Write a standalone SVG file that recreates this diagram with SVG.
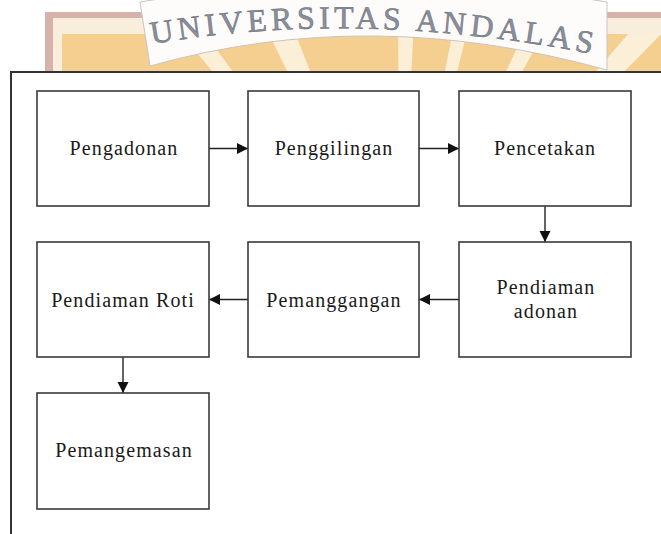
<svg xmlns="http://www.w3.org/2000/svg" width="661" height="534" viewBox="0 0 661 534">
<style>
.box{fill:#fff;stroke:#3a3a3a;stroke-width:1.6}
.lbl{font-family:"Liberation Serif","Times New Roman",serif;font-size:20px;letter-spacing:1.1px;fill:#1a1a1a;text-anchor:middle}
.conn{stroke:#222;stroke-width:1.4;fill:none;marker-end:url(#ah)}
.ray{fill:#fffaf0;opacity:0.75}
</style>
<defs>
<marker id="ah" markerUnits="userSpaceOnUse" markerWidth="12" markerHeight="12" refX="11" refY="5.5" orient="auto">
<path d="M0,0 L11,5.5 L0,11 Z" fill="#111"/>
</marker>
<clipPath id="wm"><rect x="62" y="34" width="600" height="40"/></clipPath>
</defs>
<rect width="661" height="534" fill="#fff"/>
<g id="watermark">
<rect x="45" y="12" width="620" height="62" fill="#d7b2aa"/>
<rect x="53" y="18" width="610" height="56" fill="#f9eedc"/>
<rect x="62" y="34" width="600" height="40" fill="#f4cf8f"/>
<g clip-path="url(#wm)">
<polygon class="ray" points="400,300 262,20 290,20"/>
<polygon class="ray" points="400,300 398,20 414,20"/>
<polygon class="ray" points="400,300 455,20 470,20"/>
<polygon class="ray" points="400,300 530,20 550,20"/>
<polygon class="ray" points="400,300 640,20 675,20"/>
<polygon class="ray" points="400,300 170,20 195,20"/>
</g>
<path d="M140,2 Q370,-40 607,2 L607,70 Q370,4 150,66 Z" fill="#fdfcfb" stroke="#c9c4c4" stroke-width="1"/>
<path id="arc" d="M152,44 Q360,8 598,55" fill="none"/>
<text font-family="'Liberation Serif','Times New Roman',serif" font-size="32" fill="#8a8f9a" stroke="#656a76" stroke-width="0.5"><textPath href="#arc" textLength="442" lengthAdjust="spacing">UNIVERSITAS ANDALAS</textPath></text>
</g>
<rect x="11" y="72" width="660" height="470" fill="#fff" stroke="#333" stroke-width="2"/>
<g id="connectors">
<line class="conn" x1="209" y1="148.5" x2="248" y2="148.5"/>
<line class="conn" x1="419" y1="148.5" x2="459" y2="148.5"/>
<line class="conn" x1="545" y1="206" x2="545" y2="242"/>
<line class="conn" x1="459" y1="299.5" x2="419" y2="299.5"/>
<line class="conn" x1="248" y1="299.5" x2="209" y2="299.5"/>
<line class="conn" x1="123" y1="357" x2="123" y2="393"/>
</g>
<g id="n1"><rect class="box" x="37" y="91" width="172" height="115"/><text class="lbl" x="124" y="155">Pengadonan</text></g>
<g id="n2"><rect class="box" x="248" y="91" width="171" height="115"/><text class="lbl" x="334" y="155">Penggilingan</text></g>
<g id="n3"><rect class="box" x="459" y="91" width="172" height="115"/><text class="lbl" x="545" y="155">Pencetakan</text></g>
<g id="n4"><rect class="box" x="459" y="242" width="172" height="115"/><text class="lbl" x="546" y="294">Pendiaman</text><text class="lbl" x="546" y="318">adonan</text></g>
<g id="n5"><rect class="box" x="248" y="242" width="171" height="115"/><text class="lbl" x="334" y="307">Pemanggangan</text></g>
<g id="n6"><rect class="box" x="37" y="242" width="172" height="115"/><text class="lbl" x="123" y="307">Pendiaman Roti</text></g>
<g id="n7"><rect class="box" x="37" y="393" width="172" height="116"/><text class="lbl" x="124" y="457">Pemangemasan</text></g>
</svg>
